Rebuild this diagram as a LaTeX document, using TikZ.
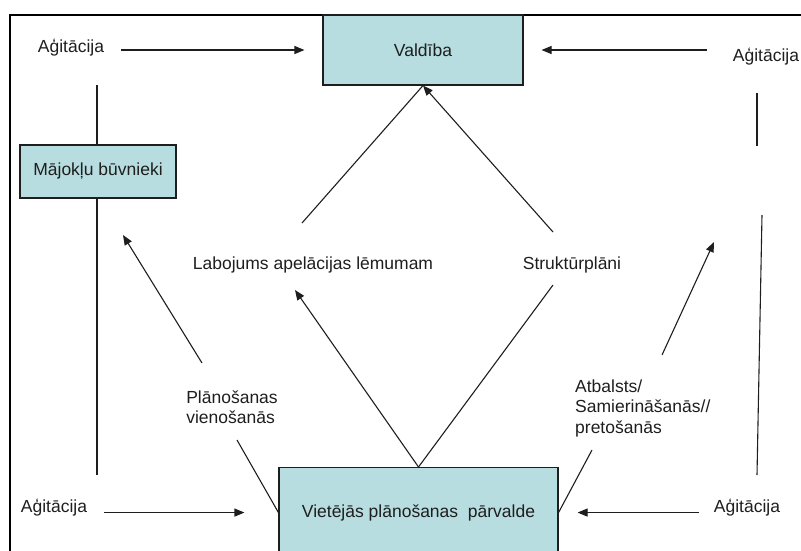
\documentclass[tikz,border=0pt]{standalone}
\usepackage{fontspec}
\setmainfont{Liberation Sans}
\usetikzlibrary{arrows.meta}
\definecolor{boxfill}{RGB}{183,221,224}
\definecolor{ink}{RGB}{30,30,30}
\begin{document}
\begin{tikzpicture}[x=1pt,y=-1pt,
  box/.style={draw=ink, line width=1.1pt, fill=boxfill, inner sep=0pt, text=ink, font=\fontsize{17.5}{20.5}\selectfont},
  lbl/.style={inner sep=0pt, text=ink, font=\fontsize{17.5}{20.5}\selectfont},
  con/.style={line width=1.1pt, draw=ink},
  arr/.style={con, -{Triangle[length=10pt,width=8pt]}}]
\useasboundingbox (0,0) rectangle (801,550);
\begin{scope}
\clip (0,0) rectangle (801,550);
\draw[line width=2.5pt] (10,15) rectangle (830,580);
\node[box, minimum width=279, minimum height=90, anchor=north] (vietejas) at (418.5,467) {Vietējās plānošanas\ \ pārvalde};
\end{scope}

\node[box, minimum width=200, minimum height=70] (valdiba) at (423,50) {Valdība};
\node[box, minimum width=156, minimum height=53] (majoklu) at (98,171.5) {Mājokļu būvnieki};

\node[lbl] (agTL) at (71,48) {Aģitācija};
\node[lbl] (agTR) at (766,57) {Aģitācija};
\node[lbl] (agBL) at (54,508) {Aģitācija};
\node[lbl] (agBR) at (747,508) {Aģitācija};
\node[lbl] (labo) at (313,265) {Labojums apelācijas lēmumam};
\node[lbl] (strukt) at (572,265) {Struktūrplāni};
\node[lbl, align=left] (plan) at (232,407) {Plānošanas\\vienošanās};
\node[lbl, align=left, anchor=west] (atb) at (575,408) {Atbalsts/\\Samierināšanās//\\pretošanās};

% horizontal agitation arrows
\draw[arr, shorten <=17pt, shorten >=18pt] (agTL.east |- valdiba.west) -- (valdiba.west);
\draw[arr, shorten <=26pt, shorten >=18pt] (agTR.west |- valdiba.east) -- (valdiba.east);
\draw[arr, shorten <=17pt, shorten >=34pt] (agBL.east |- vietejas.west) -- (vietejas.west);
\draw[arr, shorten <=15pt, shorten >=19pt] (agBR.west |- vietejas.east) -- (vietejas.east);

% vertical lines
\coordinate (lt) at (97,85);
\coordinate (lb) at (97,475);
\draw[con] (lt) -- (lt |- majoklu.north);
\draw[con] (lb |- majoklu.south) -- (lb);
\coordinate (r1a) at (757,93);
\coordinate (r1b) at (757,146);
\coordinate (r2a) at (762,215);
\coordinate (r2b) at (757,475);
\draw[con] (r1a) -- (r1b);
\draw[con] (r2a) -- (r2b);

% diagonals
\coordinate (l1) at (302,223);
\draw[con] (l1) -- (valdiba.south);
\coordinate (s1) at (553,232);
\draw[arr] (s1) -- (valdiba.south);
\coordinate (l2) at (295,290);
\draw[arr] (vietejas.north) -- (l2);
\coordinate (s2) at (553,285);
\draw[con] (vietejas.north) -- (s2);
\coordinate (m0) at (202,363);
\coordinate (m1) at (123,235);
\draw[arr] (m0) -- (m1);
\coordinate (p1) at (237,440);
\draw[con] (p1) -- (vietejas.west);
\coordinate (a1) at (592,450);
\draw[con] (a1) -- (vietejas.east);
\coordinate (a2) at (662,355);
\coordinate (a3) at (714,242);
\draw[arr] (a2) -- (a3);
\end{tikzpicture}
\end{document}
